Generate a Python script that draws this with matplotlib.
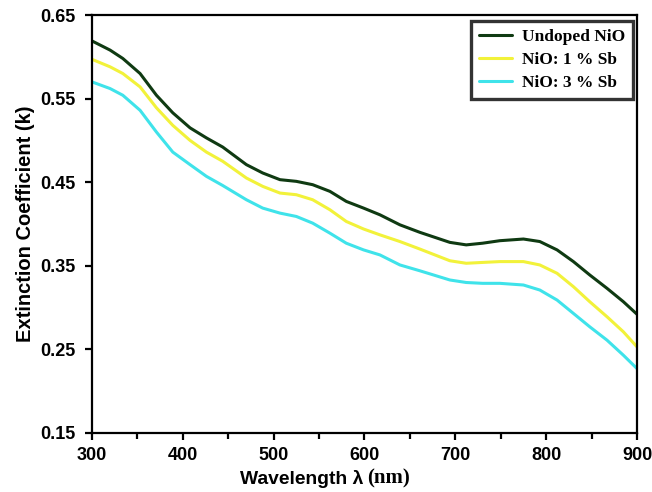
import matplotlib
matplotlib.use("Agg")
import matplotlib.pyplot as plt
from matplotlib.ticker import MultipleLocator

wavelength = [300, 320, 334, 353, 371, 389, 408, 426, 444, 470, 488, 507, 525,
              543, 562, 580, 599, 617, 639, 661, 694, 712, 730, 749, 775, 793,
              812, 830, 848, 867, 885, 900]

k_undoped = [0.619, 0.608, 0.598, 0.580, 0.554, 0.533, 0.515, 0.503, 0.492,
             0.471, 0.461, 0.453, 0.451, 0.447, 0.439, 0.427, 0.419, 0.411,
             0.399, 0.390, 0.378, 0.375, 0.377, 0.380, 0.382, 0.379, 0.369,
             0.355, 0.339, 0.323, 0.307, 0.292]
k_sb1 = [0.597, 0.588, 0.580, 0.564, 0.539, 0.518, 0.500, 0.486, 0.475,
         0.455, 0.445, 0.437, 0.435, 0.429, 0.417, 0.403, 0.394, 0.387,
         0.379, 0.370, 0.356, 0.353, 0.354, 0.355, 0.355, 0.351, 0.341,
         0.325, 0.307, 0.289, 0.271, 0.253]
k_sb3 = [0.570, 0.562, 0.554, 0.536, 0.510, 0.486, 0.471, 0.457, 0.446,
         0.429, 0.419, 0.413, 0.409, 0.401, 0.389, 0.377, 0.369, 0.363,
         0.351, 0.344, 0.333, 0.330, 0.329, 0.329, 0.327, 0.321, 0.309,
         0.293, 0.277, 0.261, 0.243, 0.227]

labels = ["Undoped NiO", "NiO: 1 % Sb", "NiO: 3 % Sb"]
colors = ["#0f3a12", "#f2f23a", "#3fe3ea"]
yticks = [0.15, 0.25, 0.35, 0.45, 0.55, 0.65]

sans = "Liberation Sans"
serif = "Liberation Serif"

fig = plt.figure(figsize=(6.52, 4.92), dpi=100)
ax = fig.add_axes([0.141, 0.120, 0.836, 0.8495])

for k, lab, c in zip([k_undoped, k_sb1, k_sb3], labels, colors):
    ax.plot(wavelength, k, color=c, lw=2.2, label=lab,
            solid_joinstyle="round", solid_capstyle="round")

ax.set_xlim(300, 900)
ax.set_ylim(0.15, 0.65)
ax.xaxis.set_major_locator(MultipleLocator(100))
ax.xaxis.set_minor_locator(MultipleLocator(50))
ax.set_yticks(yticks)
ax.set_yticklabels([f"{v:.2f}" for v in yticks])

for s in ax.spines.values():
    s.set_linewidth(1.6)
ax.tick_params(which="both", direction="out", width=1.6)
ax.tick_params(which="major", length=5)
ax.tick_params(which="minor", length=4)
ax.tick_params(axis="y", which="minor", left=False)
ax.tick_params(axis="y", pad=7)
ax.tick_params(axis="x", pad=5)
for t in ax.get_xticklabels() + ax.get_yticklabels():
    t.set_fontfamily(sans)
    t.set_fontweight("bold")
    t.set_fontsize(13)

ax.set_ylabel("Extinction Coefficient (k)", fontfamily=sans, fontweight="bold",
              fontsize=14.5)
ax.yaxis.set_label_coords(-0.105, 0.5)

# x label: sans for the name, serif for the unit
fig.text(0.557, 0.027, "Wavelength λ", fontfamily=sans, fontweight="bold",
         fontsize=13.9, ha="right", va="center")
fig.text(0.563, 0.027, "(nm)", fontfamily=serif, fontweight="bold",
         fontsize=15, ha="left", va="center")

leg = ax.legend(loc="upper right", bbox_to_anchor=(0.9927, 0.9856),
                borderaxespad=0, frameon=True, fancybox=False,
                prop={"family": serif, "weight": "bold", "size": 12.5},
                handlelength=1.9, borderpad=0.45, labelspacing=0.4,
                handletextpad=0.6)
leg.get_frame().set_edgecolor("black")
leg.get_frame().set_linewidth(2.4)

fig.savefig("out.png", dpi=100)
